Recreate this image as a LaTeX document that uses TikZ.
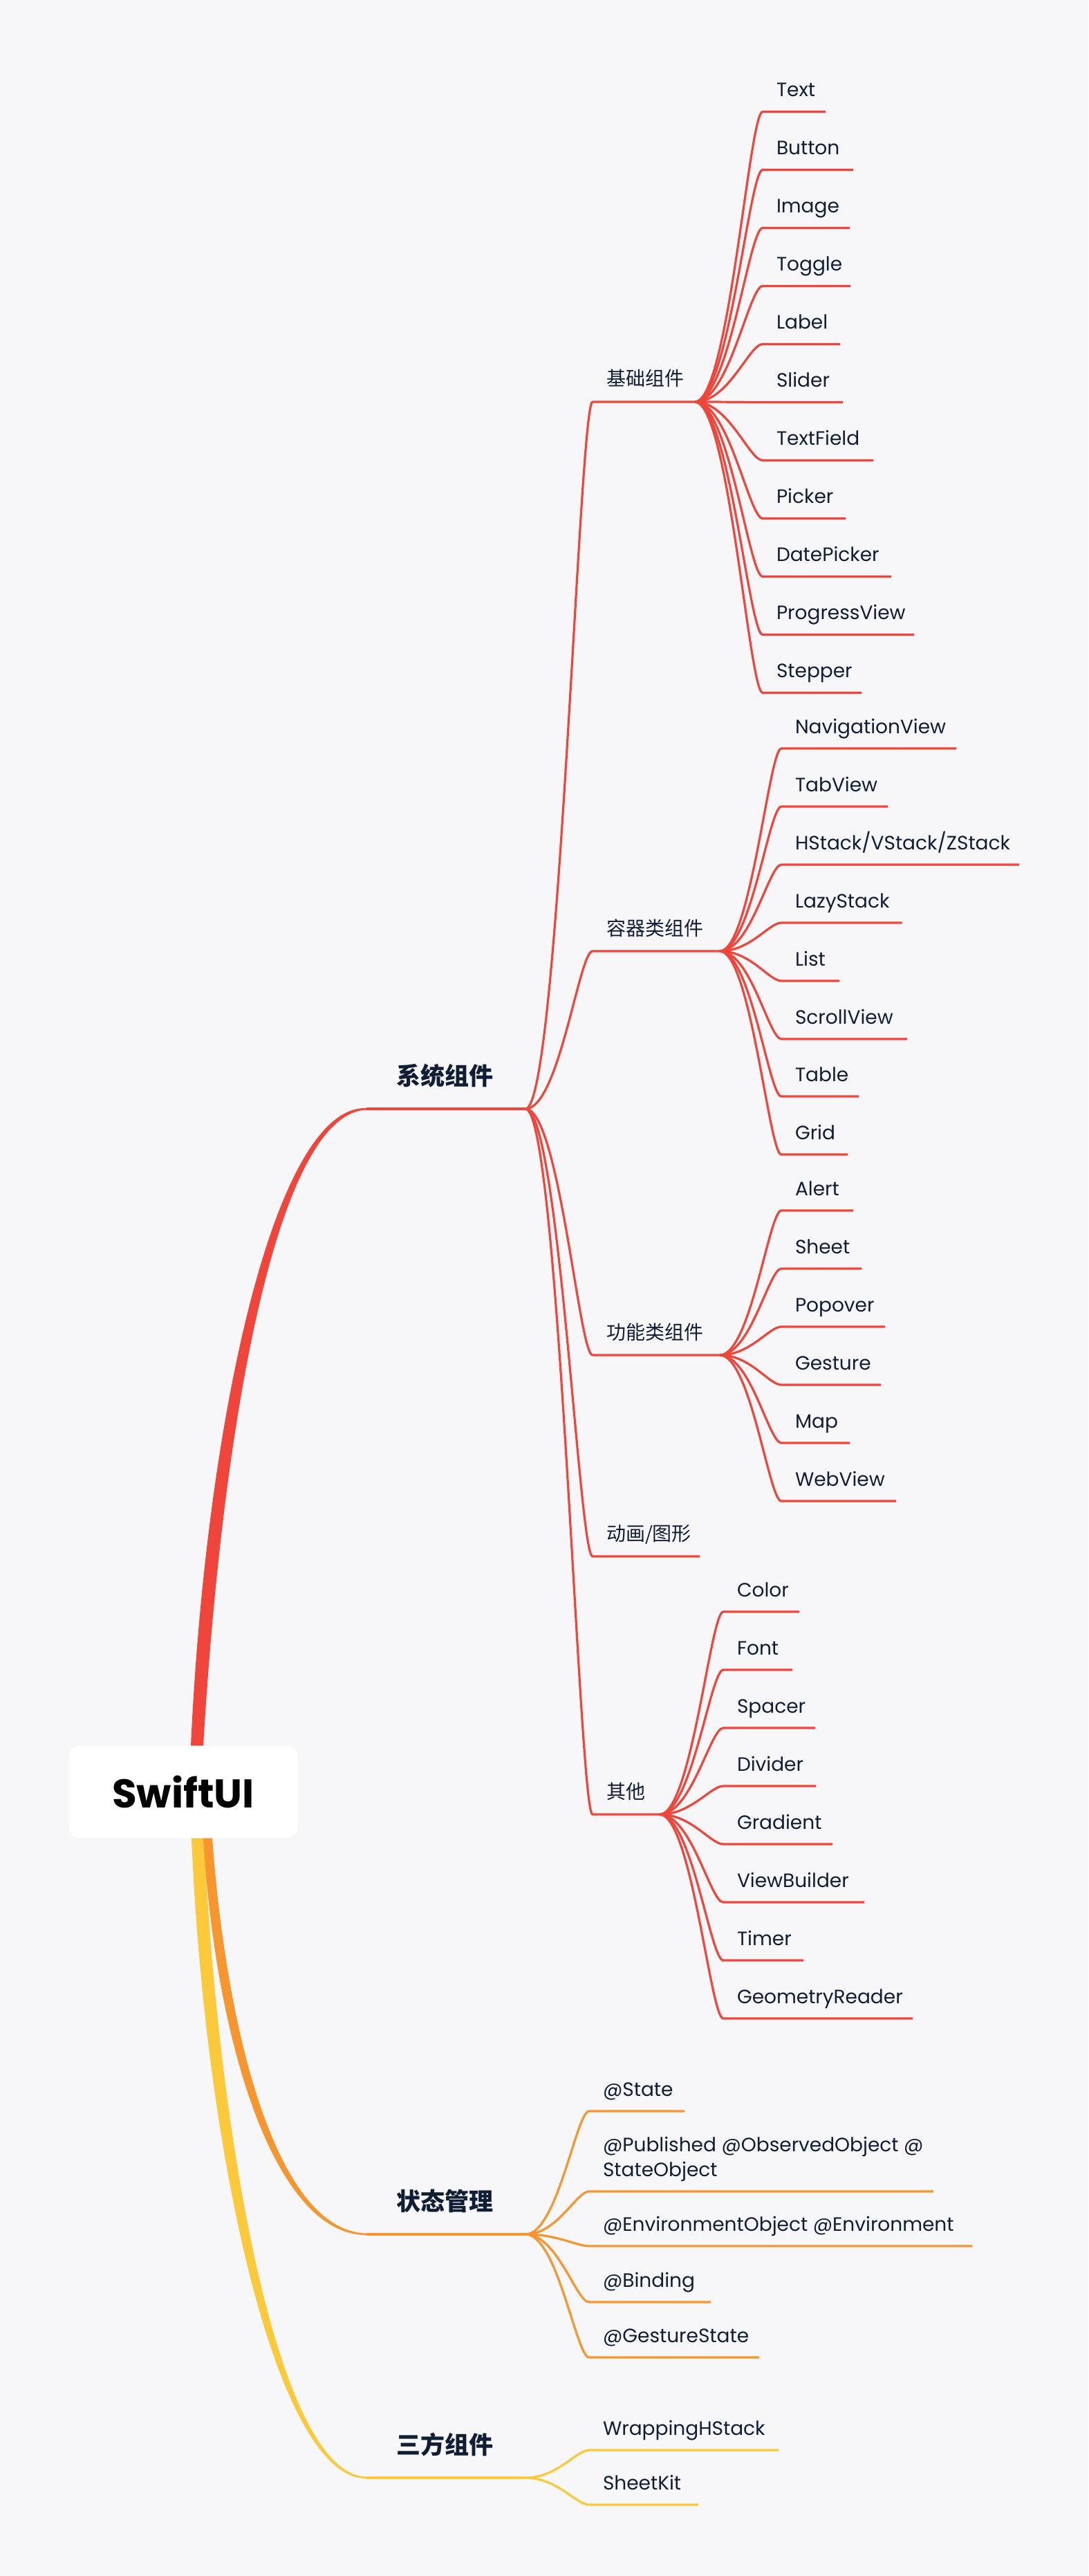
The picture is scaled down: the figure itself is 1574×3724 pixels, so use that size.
\documentclass[tikz,border=0pt]{standalone}
\usepackage{fontspec}
\setmainfont{Poppins}
\newfontfamily\cjk{Noto Sans CJK SC}
\usetikzlibrary{calc}
\definecolor{redc}{HTML}{F0453A}
\definecolor{orangec}{HTML}{F7962E}
\definecolor{yellowc}{HTML}{FCC93A}
\definecolor{ink}{HTML}{0F1D35}
\definecolor{bgc}{HTML}{F7F7FA}
\pgfdeclarelayer{back}
\pgfsetlayers{back,main}
\tikzset{
  lab/.style={anchor=south west, inner xsep=10pt, inner ysep=11pt, text depth=0pt, outer sep=0pt, text=ink, font=\fontsize{14}{17}\selectfont},
  labc/.style={lab, inner ysep=11.5pt, font=\fontsize{14}{17}\selectfont\cjk},
  topnode/.style={anchor=south west, inner xsep=21.5pt, inner ysep=17.5pt, text depth=0pt, outer sep=0pt, text=ink, font=\fontsize{17.5}{20}\selectfont\cjk\bfseries},
  rootbox/.style={fill=white, rounded corners=7.5pt, minimum width=165pt, minimum height=66.5pt, inner sep=0pt, text=black, font=\fontsize{29}{30}\selectfont\bfseries},
  lr/.style={draw=redc, line width=1.6pt, line join=round},
  lo/.style={draw=orangec, line width=1.6pt, line join=round},
  ly/.style={draw=yellowc, line width=1.6pt, line join=round}
}
\newcommand\nd[5]{\node[#1] (#2) at (#3) {\makebox[#4pt][l]{#5}};}
\newcommand\lk[3]{\draw[#1] let \p1=(#2.south east), \p2=(#3.south west) in (\p1) .. controls ({\x1+0.5*(\x2-\x1)},\y1) and ({\x2-0.2*(\x2-\x1)},\y2) .. (\p2) -- (#3.south east);}
\begin{document}
\begin{tikzpicture}[x=0.5pt,y=-0.5pt]
\begin{pgfonlayer}{back}
\fill[bgc] (0,0) rectangle (1574,3724);
\end{pgfonlayer}
\useasboundingbox (0,0) rectangle (1574,3724);

% root and level 1
\node[rootbox] (root) at (265,2590.5) {SwiftUI};
\nd{topnode}{sys}{530,1603}{72}{系统组件}
\nd{topnode}{st}{530,3230}{72}{状态管理}
\nd{topnode}{th}{530,3582}{72}{三方组件}

% level 2 under sys
\nd{labc}{jc}{857,581}{54}{基础组件}
\nd{labc}{rq}{857,1375}{72}{容器类组件}
\nd{labc}{gn}{857,1959}{72}{功能类组件}
\nd{labc}{dh}{857,2250}{57.5}{动画/图形}
\nd{labc}{qt}{857,2623}{28.5}{其他}

% jc children
\nd{lab}{tx}{1103,161.5}{25.5}{Text}
\nd{lab}{bt}{1103,245.5}{45.5}{Button}
\nd{lab}{im}{1103,329.5}{43}{Image}
\nd{lab}{tg}{1103,413.5}{43.5}{Toggle}
\nd{lab}{lb}{1103,497.5}{36}{Label}
\nd{lab}{sl}{1103,581.5}{38}{Slider}
\nd{lab}{tf}{1103,665.5}{60}{TextField}
\nd{lab}{pk}{1103,749.5}{40}{Picker}
\nd{lab}{dp}{1103,833.5}{73}{DatePicker}
\nd{lab}{pv}{1103,917.5}{89.5}{ProgressView}
\nd{lab}{sp}{1103,1001.5}{51.5}{Stepper}

% rq children
\nd{lab}{nv}{1130,1082}{106.5}{NavigationView}
\nd{lab}{tv}{1130,1166}{57}{TabView}
\nd{lab}{hs}{1130,1250}{152}{HStack/VStack/ZStack}
\nd{lab}{ls}{1130,1334}{67.25}{LazyStack}
\nd{lab}{li}{1130,1418}{22}{List}
\nd{lab}{sv}{1130,1502}{71}{ScrollView}
\nd{lab}{tb}{1130,1585}{36}{Table}
\nd{lab}{gr}{1130,1669}{28}{Grid}

% gn children
\nd{lab}{al}{1130,1750}{32}{Alert}
\nd{lab}{sh}{1130,1834}{38}{Sheet}
\nd{lab}{po}{1130,1918}{55}{Popover}
\nd{lab}{ge}{1130,2002}{52}{Gesture}
\nd{lab}{mp}{1130,2086}{29.5}{Map}
\nd{lab}{wv}{1130,2170}{63}{WebView}

% qt children
\nd{lab}{co}{1046,2330}{35}{Color}
\nd{lab}{fo}{1046,2414}{30}{Font}
\nd{lab}{spc}{1046,2498}{46.5}{Spacer}
\nd{lab}{dv}{1046,2582}{47}{Divider}
\nd{lab}{gd}{1046,2666}{59}{Gradient}
\nd{lab}{vb}{1046,2750}{82}{ViewBuilder}
\nd{lab}{ti}{1046,2834}{38}{Timer}
\nd{lab}{gm}{1046,2918}{117}{GeometryReader}

% st children
\nd{lab}{sa}{852,3052}{49}{@State}
\node[lab] (sb) at (852,3168) {\parbox[b]{229pt}{\baselineskip=18pt \makebox[229pt][l]{@Published @ObservedObject @}\\\makebox[229pt][l]{StateObject}}};
\nd{lab}{sc}{852,3247}{257}{@EnvironmentObject @Environment}
\nd{lab}{sd}{852,3328}{68}{@Binding}
\nd{lab}{se}{852,3408}{103}{@GestureState}

% th children
\nd{lab}{ta}{852,3542}{117}{WrappingHStack}
\nd{lab}{tk}{852,3621}{59}{SheetKit}

\begin{pgfonlayer}{back}
% tapered trunks
\fill[yellowc] ($(root.south)+(12,0)$) .. controls ($(root.south)+(31,448)$) and ($(th.south west)+(-132,2)$) .. ($(th.south west)+(0,1)$)
  -- ($(th.south west)+(0,-1.5)$) .. controls ($(th.south west)+(-128,-4)$) and ($(root.south)+(51,438)$) .. ($(root.south)+(30,0)$) -- cycle;
\fill[orangec] ($(root.south)+(29,0)$) .. controls ($(root.south)+(47,298)$) and ($(st.south west)+(-132,1.5)$) .. ($(st.south west)+(0,1)$)
  -- ($(st.south west)+(0,-1.5)$) .. controls ($(st.south west)+(-128,-4)$) and ($(root.south)+(63,288)$) .. ($(root.south)+(42,0)$) -- cycle;
\fill[redc] ($(root.north)+(11,0)$) .. controls ($(root.north)+(33,-474)$) and ($(sys.south west)+(-132,-6)$) .. ($(sys.south west)+(0,-1)$)
  -- ($(sys.south west)+(0,1.5)$) .. controls ($(sys.south west)+(-128,6)$) and ($(root.north)+(57,-474)$) .. ($(root.north)+(29,0)$) -- cycle;
% level-1 underlines
\draw[lr, line width=2pt] (sys.south west) -- (sys.south east);
\draw[lo, line width=2pt] (st.south west) -- (st.south east);
\draw[ly, line width=2pt] (th.south west) -- (th.south east);
% links
\foreach \c in {jc,rq,gn,dh,qt} {\lk{lr}{sys}{\c}}
\foreach \c in {tx,bt,im,tg,lb,sl,tf,pk,dp,pv,sp} {\lk{lr}{jc}{\c}}
\foreach \c in {nv,tv,hs,ls,li,sv,tb,gr} {\lk{lr}{rq}{\c}}
\foreach \c in {al,sh,po,ge,mp,wv} {\lk{lr}{gn}{\c}}
\foreach \c in {co,fo,spc,dv,gd,vb,ti,gm} {\lk{lr}{qt}{\c}}
\foreach \c in {sa,sb,sc,sd,se} {\lk{lo}{st}{\c}}
\foreach \c in {ta,tk} {\lk{ly}{th}{\c}}
\end{pgfonlayer}
\end{tikzpicture}
\end{document}
